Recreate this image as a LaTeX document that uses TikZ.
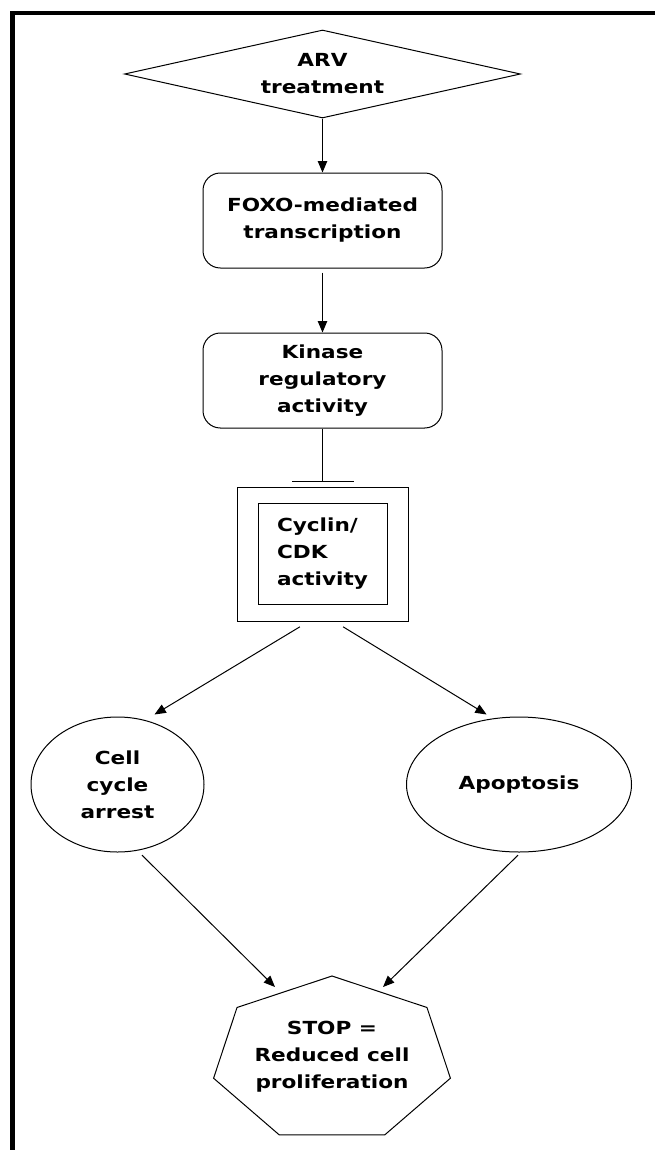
\documentclass[tikz,border=0pt]{standalone}
\usepackage{fontspec}
\newfontfamily\lblfont{DejaVu Sans}[FakeStretch=1.2]
\usetikzlibrary{shapes.geometric,arrows.meta}

\begin{document}
\begin{tikzpicture}[x=0.75pt,y=-0.75pt,
        every node/.style={font=\lblfont\bfseries\fontsize{13.5}{20.25}\selectfont, align=center, inner sep=0pt},
        box/.style={draw, line width=0.75pt},
        roundbox/.style={box, rounded corners=13pt, minimum width=179.25pt, minimum height=71.25pt},
        oval/.style={box, ellipse, minimum height=101.25pt},
        arr/.style={-{Triangle[length=8.5pt,width=7pt]}, line width=0.75pt}]
        \useasboundingbox (0,0) rectangle (655,1150);
        % frame
        \draw[line width=3.6pt] (655,13) -- (12.5,13) -- (12.5,1150);
        % steps
        \node[box, diamond, aspect=4.5, minimum width=297pt, minimum height=66pt] (arv) at (322.5,74) {ARV\\treatment};
        \node[roundbox] (foxo) at (322.5,220.5) {FOXO-mediated\\transcription};
        \node[roundbox] (kin) at (322.5,380.5) {Kinase\\regulatory\\activity};
        \node[box, minimum width=128.25pt, minimum height=100.5pt] (cdk) at (322.5,554) {};
        \node[box, minimum width=96.75pt, minimum height=75.75pt, align=left] (cdkin) at (322.5,553.5) {Cyclin/\\CDK\\activity};
        \node[oval, minimum width=129.75pt] (cca) at (117.5,784.5) {Cell\\cycle\\arrest};
        \node[oval, minimum width=168.75pt] (apo) at (519,784.5) {Apoptosis};
        % heptagon
        \coordinate (hc) at (332,1059.6);
        \foreach \k in {0,...,6}
            \path (hc) ++({90+\k*360/7}:91.1pt and 62.7pt) coordinate (h\k);
        \draw[line width=0.75pt] (h0) -- (h1) -- (h2) -- (h3) -- (h4) -- (h5) -- (h6) -- cycle;
        \node (stop) at (332,1057) {STOP =\\Reduced cell\\proliferation};
        % links
        \draw[arr] (arv.south) -- (foxo.north);
        \draw[arr] ([yshift=-3pt]foxo.south) -- (kin.north);
        \coordinate (tee) at (322.5,482);
        \draw[-{Bar[width=46.5pt]}, line width=0.75pt] (kin.south) -- (tee);
        \draw[arr] ([xshift=-17pt,yshift=-4pt]cdk.south) -- ([xshift=27.75pt,yshift=1.5pt]cca.north);
        \draw[arr] ([xshift=15.5pt,yshift=-4pt]cdk.south) -- ([xshift=-24.3pt,yshift=1.5pt]apo.north);
        \draw[arr] ([xshift=18.4pt,yshift=-2pt]cca.south) -- ([xshift=-42.75pt,yshift=-8.25pt]h0);
        \draw[arr] ([xshift=-0.75pt,yshift=-2pt]apo.south) -- ([xshift=38.25pt,yshift=-8.25pt]h0);
    \end{tikzpicture}
\end{document}
